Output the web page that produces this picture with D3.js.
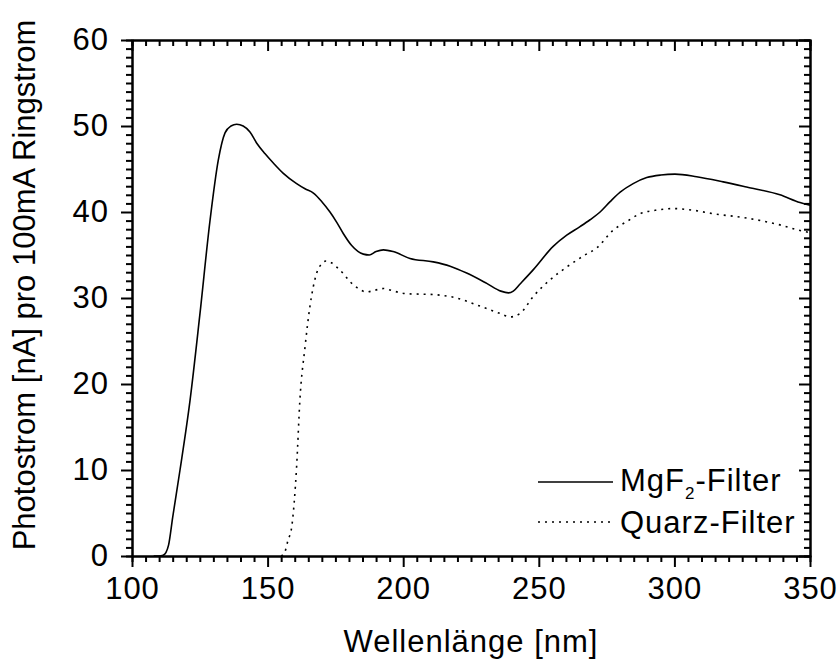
<!DOCTYPE html>
<html>
<head>
<meta charset="utf-8">
<script src="https://cdn.jsdelivr.net/npm/d3@7"></script>
<style>
  body { margin: 0; background: #fff; }
  svg text { font-family: "Liberation Sans", Arial, sans-serif; fill: #000; }
  .axis path, .axis line { stroke: #000; stroke-width: 2px; }
</style>
</head>
<body>
<div id="chart"></div>
<script>
// wavelength [nm] and photocurrent [nA]
const mgf2Wave = [108, 110, 111.5, 112.5, 113.5, 115, 117.7, 121.4, 125, 128.8, 131.8, 134.3, 136.5, 138.6, 141, 143.5, 146, 149, 152.1, 155.8, 160.7, 163.8, 166.9, 170, 173, 175.5, 177.9, 181, 185.3, 187.5, 190, 192.7, 196.3, 202.5, 211.1, 217.3, 223.4, 230.8, 236, 238.8, 240.6, 243, 248, 255.3, 260.3, 265.2, 268.9, 272.6, 276.3, 280, 284.8, 289.8, 295, 300.2, 308.2, 318, 326.6, 338.9, 346.3, 350]
const mgf2Current = [0, 0, 0.1, 0.4, 1.3, 4.5, 10, 18.1, 28, 39.1, 46, 49.2, 50.0, 50.2, 50.0, 49.3, 48, 46.8, 45.7, 44.5, 43.3, 42.7, 42.2, 41.2, 40.0, 38.8, 37.5, 36.1, 35.1, 35.0, 35.4, 35.6, 35.4, 34.6, 34.2, 33.7, 32.9, 31.7, 30.8, 30.6, 30.8, 31.6, 33.3, 36.0, 37.3, 38.3, 39.1, 40.0, 41.2, 42.3, 43.3, 44.0, 44.3, 44.4, 44.1, 43.5, 42.9, 42.0, 41.1, 40.8]

const quarzWave = [155, 156.4, 157.5, 158.9, 160.7, 161.9, 163.8, 165.6, 168.1, 170, 171.5, 173.5, 175.5, 178, 180.4, 183.5, 186.5, 189.5, 192.7, 196.5, 201.3, 211.1, 219.7, 227.1, 235.7, 239.4, 243.1, 248, 254.1, 260.3, 267, 271.3, 277.5, 282.5, 287.3, 293, 299.6, 307, 314.3, 326.6, 338.9, 346.9, 350]
const quarzCurrent = [0, 0.5, 1.8, 3.4, 10.4, 18.1, 24.3, 29.0, 32.9, 34.0, 34.3, 34.1, 33.6, 32.8, 31.9, 31.1, 30.7, 30.9, 31.1, 30.8, 30.5, 30.4, 30.0, 29.2, 28.2, 27.8, 28.2, 30.2, 32.1, 33.6, 35.0, 35.8, 37.9, 38.9, 39.8, 40.2, 40.4, 40.2, 39.8, 39.3, 38.5, 37.8, 37.6]

const xTicks = [100, 150, 200, 250, 300, 350]
const yTicks = [0, 10, 20, 30, 40, 50, 60]

const seriesNames = ["MgF\u2082-Filter", "Quarz-Filter"]

const width = 839
const height = 662
const margin = { top: 40, right: 29, bottom: 106, left: 132 }
const plotW = width - margin.left - margin.right
const plotH = height - margin.top - margin.bottom

const svg = d3.select('#chart').append('svg')
    .attr('width', width)
    .attr('height', height)

const g = svg.append('g').attr('transform', 'translate(' + margin.left + ',' + margin.top + ')')

const xScale = d3.scaleLinear().domain([100, 350]).range([0, plotW])
const yScale = d3.scaleLinear().domain([0, 60]).range([plotH, 0])

const xMinor = d3.range(100, 351, 5).filter(function(v) { return v % 50 !== 0 })
const yMinor = d3.range(0, 61, 1).filter(function(v) { return v % 10 !== 0 })

// minor ticks first, so the main axes draw over them
g.append('g').attr('class', 'axis')
    .attr('transform', 'translate(0,' + plotH + ')')
    .call(d3.axisBottom(xScale).tickValues(xMinor).tickSize(6).tickFormat(''))
g.append('g').attr('class', 'axis')
    .call(d3.axisBottom(xScale).tickValues(xMinor).tickSize(6).tickFormat(''))
g.append('g').attr('class', 'axis')
    .call(d3.axisLeft(yScale).tickValues(yMinor).tickSize(6).tickFormat(''))
g.append('g').attr('class', 'axis')
    .attr('transform', 'translate(' + plotW + ',0)')
    .call(d3.axisLeft(yScale).tickValues(yMinor).tickSize(6).tickFormat(''))

const xAxis = g.append('g').attr('class', 'axis')
    .attr('transform', 'translate(0,' + plotH + ')')
    .call(d3.axisBottom(xScale).tickValues(xTicks).tickSize(11).tickPadding(10).tickSizeOuter(0))
xAxis.selectAll('text').attr('font-size', '31px').attr('letter-spacing', '1px').attr('dy', '0.71em')

const yAxis = g.append('g').attr('class', 'axis')
    .call(d3.axisLeft(yScale).tickValues(yTicks).tickSize(11).tickPadding(12).tickSizeOuter(0))
yAxis.selectAll('text').attr('font-size', '31px').attr('letter-spacing', '1px')

// mirrored axes on top and right, ticks pointing inward
g.append('g').attr('class', 'axis')
    .call(d3.axisBottom(xScale).tickValues(xTicks).tickSize(11).tickFormat('').tickSizeOuter(0))
g.append('g').attr('class', 'axis')
    .attr('transform', 'translate(' + plotW + ',0)')
    .call(d3.axisLeft(yScale).tickValues(yTicks).tickSize(11).tickFormat('').tickSizeOuter(0))

svg.selectAll('.axis text').attr('font-family', '"Liberation Sans", Arial, sans-serif')

const line = d3.line()
    .x(function(d) { return xScale(d[0]) })
    .y(function(d) { return yScale(d[1]) })
    .curve(d3.curveMonotoneX)

const mgf2Data = mgf2Wave.map(function(w, i) { return [w, mgf2Current[i]] })
const quarzData = quarzWave.map(function(w, i) { return [w, quarzCurrent[i]] })

g.append('path')
    .datum(mgf2Data)
    .attr('d', line)
    .attr('fill', 'none')
    .attr('stroke', '#000')
    .attr('stroke-width', 1.6)

g.append('path')
    .datum(quarzData)
    .attr('d', line)
    .attr('fill', 'none')
    .attr('stroke', '#000')
    .attr('stroke-width', 1.6)
    .attr('stroke-dasharray', '2,5')

// legend
const legend = svg.append('g')
const legendY = [482, 522]
const dashes = [null, '2,5']
seriesNames.forEach(function(name, i) {
    legend.append('line')
        .attr('x1', 538).attr('x2', 613)
        .attr('y1', legendY[i]).attr('y2', legendY[i])
        .attr('stroke', '#000')
        .attr('stroke-width', 1.6)
        .attr('stroke-dasharray', dashes[i])
})
const t1 = legend.append('text')
    .attr('x', 620).attr('y', 491)
    .attr('font-size', '31px')
    .attr('letter-spacing', '1px')
t1.append('tspan').text('MgF')
t1.append('tspan').attr('font-size', '17px').attr('dy', 8).text('2')
t1.append('tspan').attr('dy', -8).text('-Filter')
legend.append('text')
    .attr('x', 620).attr('y', 533)
    .attr('font-size', '31px')
    .attr('letter-spacing', '1px')
    .text(seriesNames[1])

// axis titles
svg.append('text')
    .attr('x', 471)
    .attr('y', 652)
    .attr('text-anchor', 'middle')
    .attr('font-size', '31px')
    .attr('letter-spacing', '1px')
    .text('Wellenlänge [nm]')

svg.append('text')
    .attr('transform', 'translate(35,' + 285 + ') rotate(-90)')
    .attr('text-anchor', 'middle')
    .attr('font-size', '31px')
    .text('Photostrom [nA] pro 100mA Ringstrom')
</script>
</body>
</html>
